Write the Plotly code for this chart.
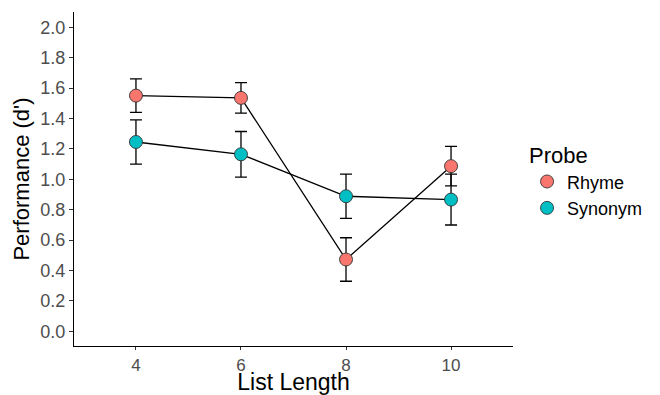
import plotly.graph_objects as go

list_length = [4, 6, 8, 10]
rhyme_mean = [1.55, 1.535, 0.472, 1.086]
rhyme_err = [0.11, 0.10, 0.143, 0.13]
synonym_mean = [1.245, 1.164, 0.888, 0.866]
synonym_err = [0.145, 0.15, 0.145, 0.167]

series = [
    ("Rhyme", rhyme_mean, rhyme_err, "#F8766D"),
    ("Synonym", synonym_mean, synonym_err, "#00BFC4"),
]

fig = go.Figure()
for name, ys, errs, color in series:
    fig.add_trace(go.Scatter(
        x=list_length, y=ys, name=name, mode="lines+markers", showlegend=False,
        line=dict(color="black", width=1.3),
        marker=dict(size=13, color=color, line=dict(color="#333333", width=0.9)),
        error_y=dict(type="data", array=errs, visible=True, color="black",
                     thickness=1.3, width=6),
    ))
for name, ys, errs, color in series:
    fig.add_trace(go.Scatter(
        x=[None], y=[None], name=name, mode="markers", showlegend=True,
        marker=dict(size=13, color=color, line=dict(color="#333333", width=0.9)),
    ))

font_family = "Liberation Sans, Arial, sans-serif"
fig.update_layout(
    width=652, height=387,
    margin=dict(l=66, r=147, t=4, b=49),
    paper_bgcolor="white", plot_bgcolor="white",
    font=dict(family=font_family, color="black"),
    showlegend=True,
    legend=dict(
        title=dict(text="Probe", font=dict(size=22, color="black")),
        font=dict(size=18, color="black"),
        x=1.032, xanchor="left", y=0.495, yanchor="middle",
        tracegroupgap=0,
    ),
    xaxis=dict(
        range=[2.82, 11.18], tickvals=[4, 6, 8, 10],
        showgrid=False, zeroline=False, automargin=False,
        showline=True, linecolor="black", linewidth=1.3,
        ticks="outside", ticklen=3, tickcolor="#333333", tickwidth=1.1,
        tickfont=dict(size=17, color="#4D4D4D"),
        title=dict(text="List Length", font=dict(size=23, color="black")),
    ),
    yaxis=dict(
        range=[-0.097, 2.1], tickvals=[0, 0.2, 0.4, 0.6, 0.8, 1.0, 1.2, 1.4, 1.6, 1.8, 2.0],
        tickformat=".1f",
        showgrid=False, zeroline=False, automargin=False,
        showline=True, linecolor="black", linewidth=1.3,
        ticks="outside", ticklen=4, tickcolor="#333333", tickwidth=1.1,
        tickfont=dict(size=18, color="#4D4D4D"),
        title=dict(text="Performance (d')", font=dict(size=22, color="black"), standoff=4),
    ),
)

fig.write_html("out.html")
